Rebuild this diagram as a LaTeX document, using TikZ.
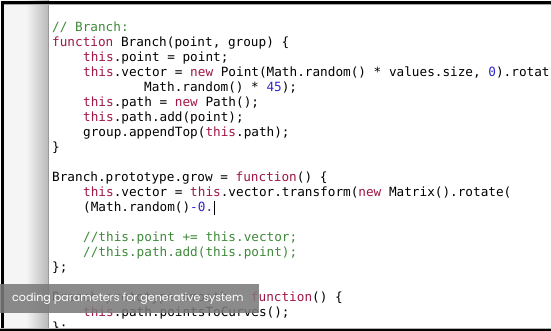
\documentclass[tikz,border=0pt]{standalone}
\usepackage{fontspec}
\usepackage{tikz}

\newfontfamily\codefont{DejaVu Sans Mono}
\newfontfamily\capfont{Poppins}

\definecolor{kwred}{RGB}{160,22,70}
\definecolor{cmtgreen}{RGB}{62,138,58}
\definecolor{numblue}{RGB}{52,40,205}

% syntax colouring
\newcommand{\kw}[1]{\textcolor{kwred}{#1}}
\newcommand{\cmt}[1]{\textcolor{cmtgreen}{#1}}
\newcommand{\nmb}[1]{\textcolor{numblue}{#1}}

\frenchspacing

\begin{document}
\begin{tikzpicture}[x=1pt,y=-1pt,
	code/.style={anchor=base west,inner sep=0pt,font=\codefont\fontsize{12.7}{15}\selectfont},
	caption/.style={anchor=west,inner sep=0pt,text=white,font=\capfont\fontsize{11.1}{13}\selectfont}]

		    \useasboundingbox (0,0) rectangle (551,331);
		    \fill[white] (0,0) rectangle (551,331);

		    % gutter
		    \fill[black!4] (3,0) rectangle (26,331);
		    \shade[left color=black!4,right color=black!27] (26,0) rectangle (48,331);
		    \draw[black!40,line width=0.6pt] (48,0) -- (48,331);

		    % Branch
		    \node[code] (cmt) at (52,31.5) {\cmt{// Branch:}};
		    \node[code] (fnhead) at (52,46.5) {\kw{function} Branch(point, group) \{};
		    \node[code] (setpt) at (83,61.5) {\kw{this}.point = point;};
		    \node[code] (setvec) at (83,76.5) {\kw{this}.vector = \kw{new} Point(Math.random() * values.size, \nmb{0}).rotat};
		    \node[code] (vecrot) at (144,91.5) {Math.random() * \nmb{45});};
		    \node[code] (setpath) at (83,106.5) {\kw{this}.path = \kw{new} Path();};
		    \node[code] (addpt) at (83,121.5) {\kw{this}.path.add(point);};
		    \node[code] (append) at (83,136.5) {group.appendTop(\kw{this}.path);};
		    \node[code] (fnend) at (52,151.5) {\}};

		    % grow
		    \node[code] (grow) at (52,181.5) {Branch.prototype.grow = \kw{function}() \{};
		    \node[code] (transf) at (83,196.5) {\kw{this}.vector = \kw{this}.vector.transform(\kw{new} Matrix().rotate(};
		    \node[code] (mrnd) at (83,211.5) {(Math.random()\nmb{-0.}};
		    \node[code] (cmtpt) at (83,241.5) {\cmt{//this.point += this.vector;}};
		    \node[code] (cmtpath) at (83,256.5) {\cmt{//this.path.add(this.point);}};
		    \node[code] (growend) at (52,271.5) {\};};

		    % smooth
		    \node[code] (smooth) at (52,301.5) {Branch.prototype.smooth = \kw{function}() \{};
		    \node[code] (curves) at (83,316.5) {\kw{this}.path.pointsToCurves();};
		    \node[code] (smoothend) at (52,331.5) {\};};

		    % text cursor
		    \draw[line width=0.7pt] ([xshift=1pt]mrnd.base east) ++(0,3.5) -- ++(0,-14);

		    % window frame
		    \fill[black] (1,1) rectangle (551,3.8);
		    \fill[black!35] (1,3.8) rectangle (551,4.6);
		    \fill[black] (1,1) rectangle (3.5,331);
		    \fill[black!30] (0,328.2) rectangle (551,329);
		    \fill[black] (0,329) rectangle (551,331);

		    % caption
		    \fill[black!52,fill opacity=0.87] (0,284) rectangle (259,313);
		    \node[caption] (capt) at (12,299) {coding parameters for generative system};

		    \end{tikzpicture}
\end{document}
